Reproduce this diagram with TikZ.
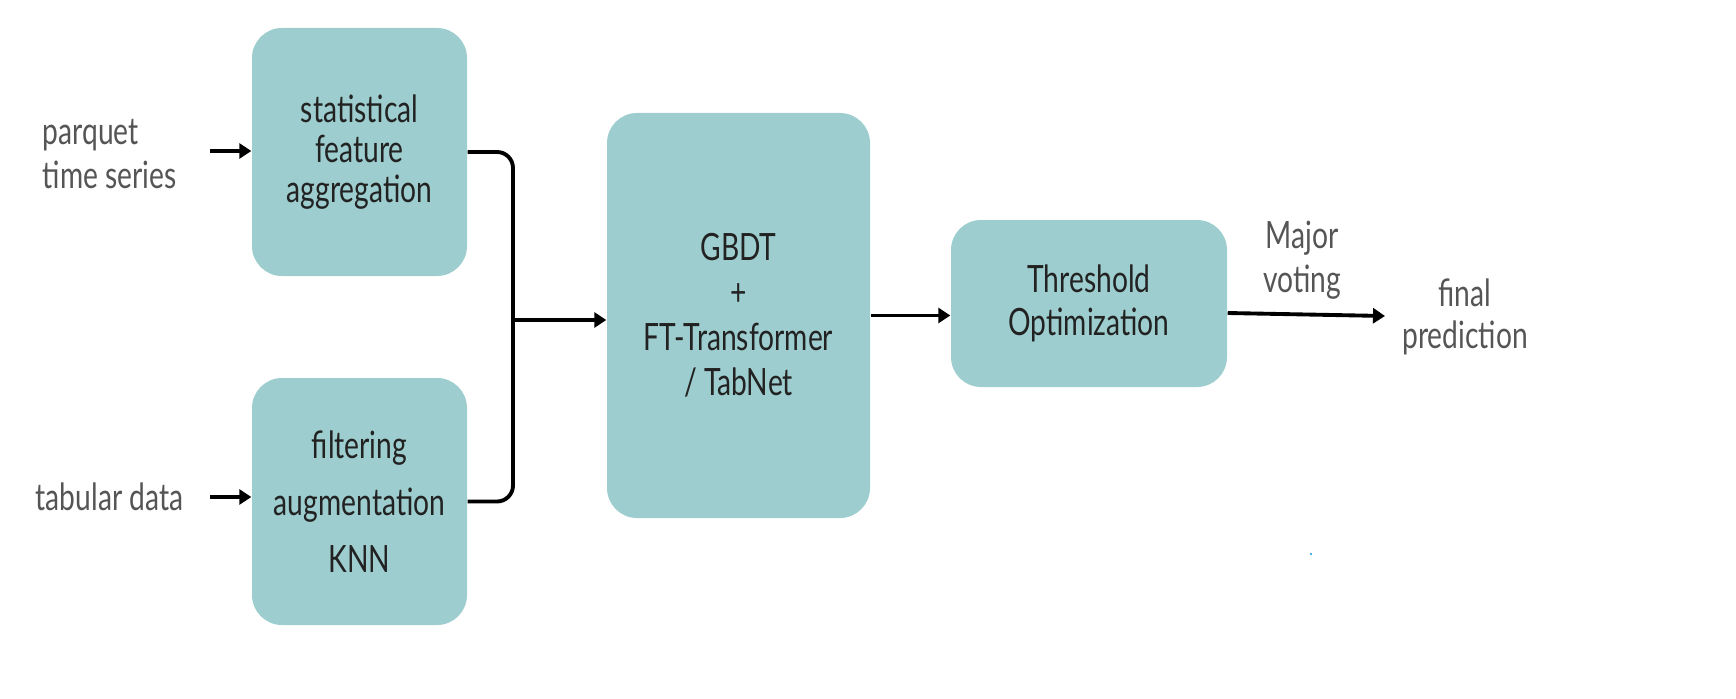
\documentclass[tikz,border=0pt]{standalone}
\usepackage{fontspec}
\setmainfont{Lato}[FakeStretch=0.75]
\usetikzlibrary{arrows.meta}

\definecolor{boxfill}{RGB}{157,205,206}
\definecolor{labgray}{RGB}{85,85,85}
\definecolor{boxtext}{RGB}{34,34,34}

\tikzset{
	box/.style={fill=boxfill, rounded corners=0.3cm, align=center, text=boxtext, inner sep=0pt},
	lbl/.style={text=labgray, inner sep=0pt},
	conn/.style={line width=1.1pt, -{Triangle[length=1.2mm,width=1.5mm]}},
	wire/.style={line width=1.1pt, rounded corners=0.16cm}
}

\begin{document}
\begin{tikzpicture}

	\useasboundingbox (0,0) rectangle (17.36,6.98);

	% Preprocessing boxes
	\node[box, minimum width=2.15cm, minimum height=2.48cm,
		font=\fontsize{10.7}{11.4}\selectfont] (stat) at (3.595,5.46)
		{statistical\\feature\\aggregation};
	\node[box, minimum width=2.15cm, minimum height=2.47cm,
		font=\fontsize{10.7}{16.2}\selectfont] (filt) at (3.595,1.965)
		{filtering\\augmentation\\KNN};

	% Model and threshold boxes
	\node[box, minimum width=2.63cm, minimum height=4.05cm,
		font=\fontsize{10.7}{12.8}\selectfont] (model) at (7.385,3.825)
		{GBDT\\+\\FT-Transformer\\/ TabNet};
	\node[box, minimum width=2.76cm, minimum height=1.67cm,
		font=\fontsize{10.7}{12.3}\selectfont] (thr) at (10.89,3.945)
		{Threshold\\Optimization};

	% Input and output labels
	\node[lbl, anchor=west, align=left, font=\fontsize{10.7}{12.3}\selectfont] (parq) at (0.42,5.44)
		{parquet\\time series};
	\node[lbl, anchor=west, font=\fontsize{10.7}{12.3}\selectfont] (tab) at (0.35,2.01)
		{tabular data};
	\node[lbl, align=center, font=\fontsize{10.7}{12.5}\selectfont] (vote) at (13.02,4.38)
		{Major\\voting};
	\node[lbl, align=center, font=\fontsize{10.7}{11.8}\selectfont] (final) at (14.65,3.81)
		{final\\prediction};

	\coordinate (in1) at (2.10,5.47);
	\coordinate (in2) at (2.10,2.01);
	\coordinate (mrg) at (5.13,3.78);
	\coordinate (out) at (13.85,3.82);

	% Connectors
	\draw[conn] (in1) -- (in1 -| stat.west);
	\draw[conn] (in2) -- (in2 -| filt.west);
	\draw[wire] (stat.east) -| (mrg);
	\draw[wire] (filt.east) -| (mrg);
	\draw[conn] (mrg) -- (mrg -| model.west);
	\draw[conn] (model.east) -- (model.east -| thr.west);
	\draw[conn] ([yshift=-0.095cm]thr.east) -- (out);

	\fill[cyan!80!blue] (13.11,1.44) circle (0.012);

\end{tikzpicture}
\end{document}
